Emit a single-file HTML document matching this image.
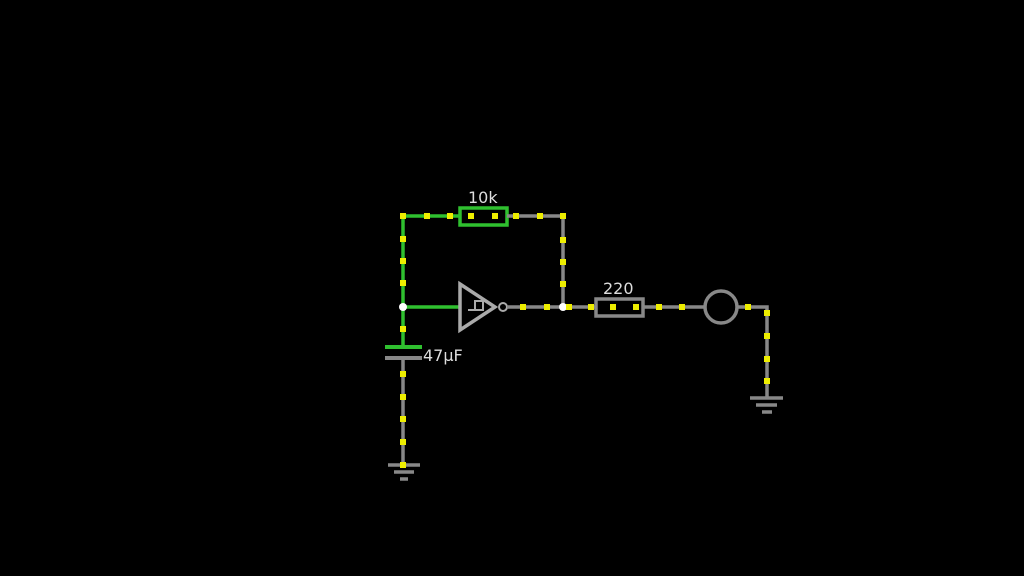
<!DOCTYPE html><html><head><style>body{margin:0;background:#000}</style></head><body>
<svg width="1024" height="576" xmlns="http://www.w3.org/2000/svg" style="display:block;background:#000">
<g stroke-width="3.5" fill="none">
<path d="M403 307 V216 H459" stroke="#2fc02f"/>
<path d="M403 307 H460" stroke="#2fc02f"/>
<path d="M403 307 V347" stroke="#2fc02f"/>
<path d="M385 347 H422" stroke="#2fc02f" stroke-width="4"/>
<rect x="460" y="208" width="47" height="17" stroke="#2fc02f"/>
<path d="M507 216 H563 V307" stroke="#888"/>
<path d="M385 358 H422" stroke="#888" stroke-width="4"/>
<path d="M403 358 V465" stroke="#888"/>
<path d="M388 465 H420 M394 472 H414 M400 479 H408" stroke="#888"/>
<path d="M460 284 L495 307 L460 330 Z" stroke="#aaa"/>
<path d="M468 310 H475 M475 301 H483 V310 H475 Z" stroke="#aaa" stroke-width="2"/>
<circle cx="503" cy="307" r="4" stroke="#aaa" stroke-width="2"/>
<path d="M507 307 H596 M643 307 H704 M738 307 H767 V398" stroke="#888"/>
<rect x="596" y="299" width="47" height="17" stroke="#888"/>
<circle cx="721" cy="307" r="16" stroke="#888"/>
<path d="M750 398 H783 M756 405 H777 M762 412 H772" stroke="#888"/>
</g>
<circle cx="403" cy="307" r="4" fill="#fff"/>
<circle cx="563" cy="307" r="4" fill="#fff"/>
<g fill="#ee0">
<rect x="400" y="213" width="6" height="6"/><rect x="424" y="213" width="6" height="6"/><rect x="447" y="213" width="6" height="6"/>
<rect x="468" y="213" width="6" height="6"/><rect x="492" y="213" width="6" height="6"/>
<rect x="513" y="213" width="6" height="6"/><rect x="537" y="213" width="6" height="6"/><rect x="560" y="213" width="6" height="6"/>
<rect x="400" y="236" width="6" height="6"/><rect x="400" y="258" width="6" height="6"/><rect x="400" y="280" width="6" height="6"/><rect x="400" y="326" width="6" height="6"/>
<rect x="560" y="237" width="6" height="6"/><rect x="560" y="259" width="6" height="6"/><rect x="560" y="281" width="6" height="6"/>
<rect x="520" y="304" width="6" height="6"/><rect x="544" y="304" width="6" height="6"/><rect x="566" y="304" width="6" height="6"/>
<rect x="588" y="304" width="6" height="6"/><rect x="610" y="304" width="6" height="6"/><rect x="633" y="304" width="6" height="6"/>
<rect x="656" y="304" width="6" height="6"/><rect x="679" y="304" width="6" height="6"/><rect x="745" y="304" width="6" height="6"/>
<rect x="764" y="310" width="6" height="6"/><rect x="764" y="333" width="6" height="6"/><rect x="764" y="356" width="6" height="6"/><rect x="764" y="378" width="6" height="6"/>
<rect x="400" y="371" width="6" height="6"/><rect x="400" y="394" width="6" height="6"/><rect x="400" y="416" width="6" height="6"/><rect x="400" y="439" width="6" height="6"/><rect x="400" y="462" width="6" height="6"/>
</g>
<g fill="#ddd" font-family="DejaVu Sans, Liberation Sans, sans-serif" font-size="16">
<text x="468" y="203">10k</text>
<text x="603" y="294">220</text>
<text x="423" y="361">47µF</text>
</g>
</svg>
</body></html>
